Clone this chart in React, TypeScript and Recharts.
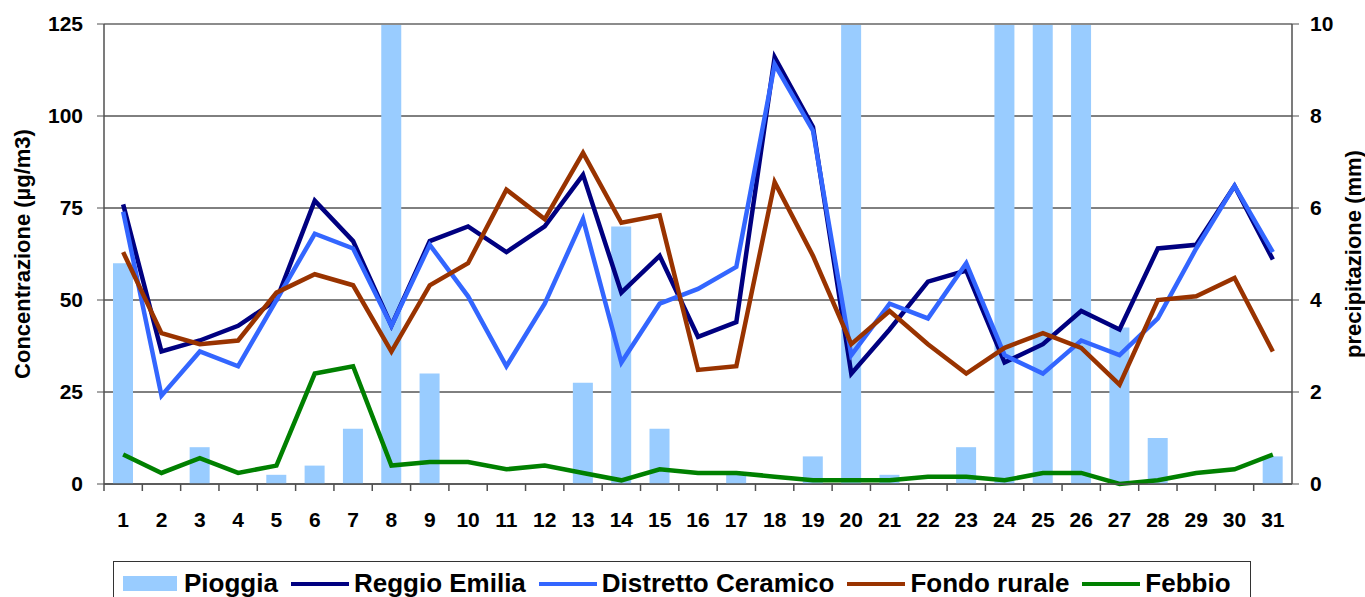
import {
  ComposedChart,
  Bar,
  Line,
  XAxis,
  YAxis,
  CartesianGrid,
  ReferenceLine,
  Legend,
  Label,
} from 'recharts'

const days = Array.from({ length: 31 }, (_, i) => String(i + 1))

// mm, right axis (bars over 10 are cut off in the original)
const pioggia = [4.8, 0, 0.8, 0, 0.2, 0.4, 1.2, 12, 2.4, 0, 0, 0, 2.2, 5.6, 1.2, 0, 0.2, 0, 0.6, 12, 0.2, 0, 0.8, 12, 12, 12, 3.4, 1.0, 0, 0, 0.6]

// µg/m3, left axis
const reggioEmilia = [76, 36, 39, 43, 50, 77, 66, 43, 66, 70, 63, 70, 84, 52, 62, 40, 44, 116, 97, 30, 42, 55, 58, 33, 38, 47, 42, 64, 65, 81, 61]
const distrettoCeramico = [74, 24, 36, 32, 50, 68, 64, 43, 65, 51, 32, 49, 72, 33, 49, 53, 59, 114, 96, 35, 49, 45, 60, 35, 30, 39, 35, 45, 64, 81, 63]
const fondoRurale = [63, 41, 38, 39, 52, 57, 54, 36, 54, 60, 80, 72, 90, 71, 73, 31, 32, 82, 62, 38, 47, 38, 30, 37, 41, 37, 27, 50, 51, 56, 36]
const febbio = [8, 3, 7, 3, 5, 30, 32, 5, 6, 6, 4, 5, 3, 1, 4, 3, 3, 2, 1, 1, 1, 2, 2, 1, 3, 3, 0, 1, 3, 4, 8]

const leftTicks = [0, 25, 50, 75, 100, 125]
const rightTicks = [0, 2, 4, 6, 8, 10]

const lines = [
  { key: 'reggio', name: 'Reggio Emilia', color: '#000080' },
  { key: 'distretto', name: 'Distretto Ceramico', color: '#3366FF' },
  { key: 'fondo', name: 'Fondo rurale', color: '#993300' },
  { key: 'febbio', name: 'Febbio', color: '#008000' },
]
const barColor = '#99CCFF'

const data = days.map((day, i) => ({
  day,
  pioggia: pioggia[i],
  reggio: reggioEmilia[i],
  distretto: distrettoCeramico[i],
  fondo: fondoRurale[i],
  febbio: febbio[i],
}))

const W = 1365
const H = 597
const PLOT_LEFT = 104
const PLOT_RIGHT = 1292
const STEP = (PLOT_RIGHT - PLOT_LEFT) / days.length
const FONT = '"Liberation Sans", Arial, sans-serif'
const AXIS = '#505050'

function XTick(props: any) {
  const { x, y, payload } = props
  return (
    <g>
      <line x1={x - STEP / 2} x2={x - STEP / 2} y1={y} y2={y + 7} stroke={AXIS} strokeWidth={1.5} />
      <text x={x} y={y + 43} textAnchor="middle" fontFamily={FONT} fontWeight="bold" fontSize={21} fill="#000">
        {payload.value}
      </text>
    </g>
  )
}

function AxisTitle({ x, text }: { x: number; text: string }) {
  return (
    <text
      transform={`translate(${x},254) rotate(-90)`}
      textAnchor="middle"
      dominantBaseline="central"
      fontFamily={FONT}
      fontWeight="bold"
      fontSize={22}
      fill="#000"
    >
      {text}
    </text>
  )
}

function LegendBox() {
  const txt = { fontFamily: FONT, fontWeight: 'bold' as const, fontSize: 26, color: '#000', lineHeight: '26px' }
  return (
    <div
      style={{
        boxSizing: 'border-box',
        width: 1138,
        height: 50,
        border: '1px solid #333',
        background: '#fff',
        display: 'flex',
        alignItems: 'flex-start',
        paddingTop: 8,
        paddingLeft: 9,
      }}
    >
      <span style={{ display: 'inline-block', width: 54, height: 15, marginTop: 6, background: barColor }} />
      <span style={{ ...txt, marginLeft: 7 }}>Pioggia</span>
      {lines.map((s) => (
        <span key={s.key} style={{ display: 'flex', alignItems: 'flex-start' }}>
          <span style={{ display: 'inline-block', width: 58, height: 4, marginTop: 12, marginLeft: 13, background: s.color }} />
          <span style={{ ...txt, marginLeft: 5 }}>{s.name}</span>
        </span>
      ))}
    </div>
  )
}

export default function App() {
  return (
    <div style={{ position: 'absolute', left: 0, top: 0, width: W, height: H, overflow: 'hidden', background: '#fff' }}>
      <ComposedChart width={W} height={H} data={data} margin={{ top: 24, right: 0, bottom: 63, left: 0 }} barCategoryGap={0}>
        <CartesianGrid vertical={false} stroke="#000" strokeWidth={1} yAxisId="left" />
        <XAxis
          dataKey="day"
          interval={0}
          height={50}
          tickLine={false}
          tickSize={0}
          tickMargin={0}
          tick={<XTick />}
          axisLine={{ stroke: AXIS, strokeWidth: 1.5 }}
        />
        <YAxis
          yAxisId="left"
          width={104}
          domain={[0, 125]}
          ticks={leftTicks}
          tickSize={7}
          tickMargin={14}
          axisLine={{ stroke: AXIS, strokeWidth: 1.5 }}
          tickLine={{ stroke: AXIS }}
          tick={{ fill: '#000', fontSize: 21, fontWeight: 'bold', fontFamily: FONT }}
        >
          <Label content={() => <AxisTitle x={22} text="Concentrazione (µg/m3)" />} />
        </YAxis>
        <YAxis
          yAxisId="right"
          orientation="right"
          width={73}
          domain={[0, 10]}
          allowDataOverflow
          ticks={rightTicks}
          tickSize={7}
          tickMargin={11}
          axisLine={{ stroke: AXIS, strokeWidth: 1.5 }}
          tickLine={{ stroke: AXIS }}
          tick={{ fill: '#000', fontSize: 21, fontWeight: 'bold', fontFamily: FONT, textAnchor: 'start' }}
        >
          <Label content={() => <AxisTitle x={1353} text="precipitazione (mm)" />} />
        </YAxis>
        <Bar yAxisId="right" dataKey="pioggia" name="Pioggia" fill={barColor} barSize={20} isAnimationActive={false} />
        <ReferenceLine yAxisId="left" y={125} stroke="#8c8c8c" strokeWidth={2} />
        {lines.map((s) => (
          <Line
            key={s.key}
            yAxisId="left"
            type="linear"
            dataKey={s.key}
            name={s.name}
            stroke={s.color}
            strokeWidth={4.5}
            dot={false}
            activeDot={false}
            isAnimationActive={false}
          />
        ))}
        <Legend
          layout="horizontal"
          verticalAlign="middle"
          align="center"
          content={() => <LegendBox />}
          wrapperStyle={{ position: 'absolute', top: 561, left: 113, width: 1138, height: 50 }}
        />
      </ComposedChart>
    </div>
  )
}
